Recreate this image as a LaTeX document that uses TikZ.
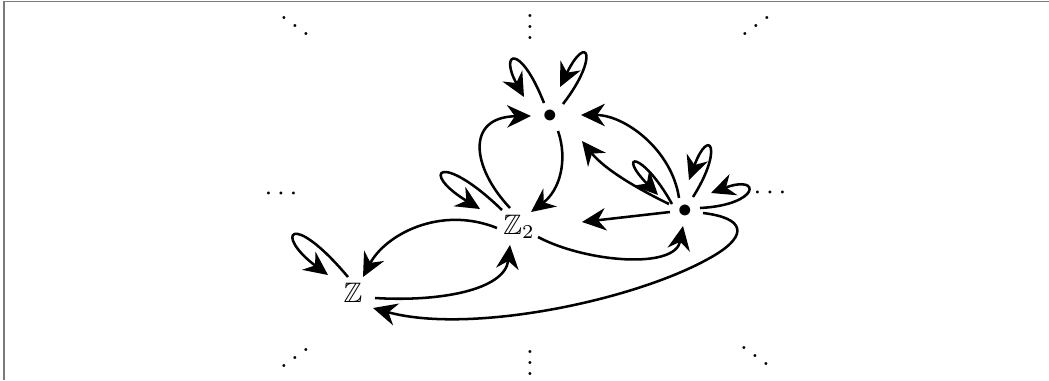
\documentclass[tikz,border=0pt]{standalone}
\usepackage{amssymb}
\usepackage{graphicx}
\usetikzlibrary{arrows.meta,calc}
\definecolor{framegray}{RGB}{122,122,122}
\begin{document}
\begin{tikzpicture}[x=0.0125cm,y=-0.0125cm,
  edge/.style={line width=0.9pt,-{Stealth[length=8.5pt,width=8pt,inset=2.8pt]}},
  vertex/.style={inner sep=0pt,outer sep=0pt},
  dotsnode/.style={inner sep=0pt,anchor=base},
  rowdots/.style={inner sep=0pt}]
\useasboundingbox (0,0) rectangle (1049,380);
% frame
\draw[framegray,line width=0.7pt] (4,380) -- (4,1.5) -- (1049,1.5);

% vertices
\node[vertex] (T)  at (550,116) {$\bullet$};
\node[vertex] (R)  at (685,211) {$\bullet$};
\node[vertex] (Z2) at (519,227) {$\mathbb{Z}_2$};
\node[vertex] (Z)  at (353,293) {$\mathbb{Z}$};

% surrounding ellipses
\node[dotsnode] (tl) at (295,38.7)  {\smash{$\ddots$}};
\node[dotsnode] (tm) at (530,39.5)  {\smash{$\vdots$}};
\node[dotsnode] (tr) at (756,38.7)  {\smash{\reflectbox{$\ddots$}}};
\node[rowdots]  (ml) at (281,194)   {$\cdots$};
\node[rowdots]  (mr) at (770,193)   {$\cdots$};
\node[dotsnode] (bl) at (295,370.7) {\smash{\reflectbox{$\ddots$}}};
\node[dotsnode] (bm) at (530,375.5) {\smash{$\vdots$}};
\node[dotsnode] (br) at (755,368.7) {\smash{$\ddots$}};

% loops
\draw[edge] ($(T)+(-6,-13)$) .. controls (520,42) and (499,52) .. ($(T)+(-26,-19)$);
\draw[edge] ($(T)+(13,-12)$) .. controls (600,56) and (587,32) .. ($(T)+(10,-29)$);
\draw[edge] ($(R)+(-13,-7)$) .. controls (642,150) and (616,152) .. ($(R)+(-27,-16)$);
\draw[edge] ($(R)+(8,-14)$) .. controls (724,148) and (709,126) .. ($(R)+(4,-31)$);
\draw[edge] ($(R)+(15,-3)$) .. controls (760,205) and (762,174) .. ($(R)+(26,-18)$);
\draw[edge] ($(Z2)+(-17,-17)$) .. controls (440,150) and (419,172) .. ($(Z2)+(-39,-18)$);
\draw[edge] ($(Z)+(-5,-16)$) .. controls (290,208) and (274,235) .. ($(Z)+(-25,-18)$);

% connecting arrows
\draw[edge] ($(T)+(8,15)$) .. controls (568,160) and (560,190) .. ($(Z2)+(12,-15)$);
\draw[edge] ($(Z2)+(-9,-19)$) .. controls (472,168) and (465,117) .. ($(T)+(-19,0)$);
\draw[edge] ($(R)+(-6,-13)$) .. controls (672,150) and (625,115) .. ($(T)+(31,-1)$);
\draw[edge] ($(R)+(-16,-7)$) .. controls (640,190) and (605,170) .. ($(T)+(32,25)$);
\draw[edge] ($(R)+(-15,1)$) -- ($(Z2)+(63,-5)$);
\draw[edge] ($(Z2)+(19,10)$) .. controls (585,262) and (675,270) .. ($(R)+(-2,15)$);
\coordinate (swing) at (715,255);
\draw[edge] ($(R)+(18,2)$) .. controls (745,218) and (748,235) .. (swing)
  .. controls (640,300) and (470,335) .. ($(Z)+(20,15)$);
\draw[edge] ($(Z2)+(-22,1)$) .. controls (440,205) and (385,235) .. ($(Z)+(10,-16)$);
\draw[edge] ($(Z)+(22,5)$) .. controls (440,302) and (505,290) .. ($(Z2)+(-9,18)$);
\end{tikzpicture}
\end{document}
